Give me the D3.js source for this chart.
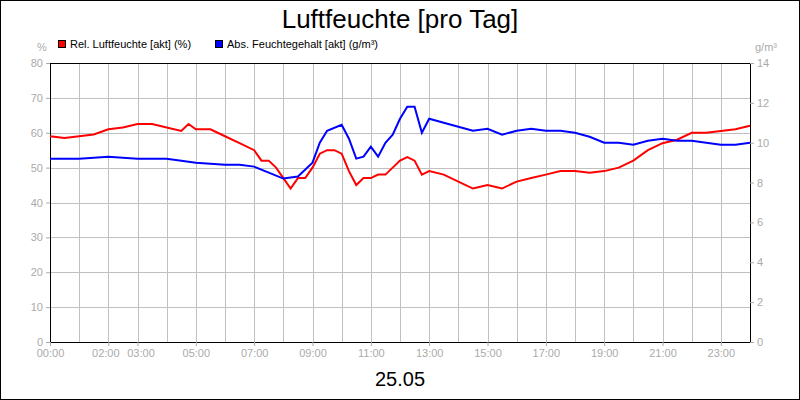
<!DOCTYPE html>
<html><head><meta charset="utf-8">
<script src="https://cdn.jsdelivr.net/npm/d3@7"></script>
<style>body{margin:0}svg{font-family:"Liberation Sans",Arial,sans-serif}</style>
</head><body><div id="chart"></div>
<script>
const width = 800, height = 400
const margin = { top: 63, right: 50, bottom: 58, left: 50 }

// hours of day
const relTimes = [0,0.5,1,1.5,2,2.5,3,3.5,4,4.5,4.75,5,5.5,6,6.5,7,7.25,7.5,7.75,8,8.25,8.5,8.75,9,9.25,9.5,9.75,10,10.25,10.5,10.75,11,11.25,11.5,11.75,12,12.25,12.5,12.75,13,13.5,14,14.5,15,15.5,16,16.5,17,17.5,18,18.5,19,19.5,20,20.5,21,21.5,22,22.5,23,23.5,24]
const relValues = [59,58.5,59,59.5,61,61.5,62.5,62.5,61.5,60.5,62.5,61,61,59,57,55,52,52,50,47,44,47,47,50,54,55,55,54,49,45,47,47,48,48,50,52,53,52,48,49,48,46,44,45,44,46,47,48,49,49,48.5,49,50,52,55,57,58,60,60,60.5,61,62]
const absTimes = [0,1,2,3,4,4.5,5,6,6.5,7,7.5,8,8.5,9,9.25,9.5,10,10.25,10.5,10.75,11,11.25,11.5,11.75,12,12.25,12.5,12.75,13,13.5,14,14.5,15,15.5,16,16.5,17,17.5,18,18.5,19,19.5,20,20.5,21,21.5,22,22.5,23,23.5,24]
const absValues = [9.2,9.2,9.3,9.2,9.2,9.1,9.0,8.9,8.9,8.8,8.5,8.2,8.3,9.0,10.0,10.6,10.9,10.2,9.2,9.3,9.8,9.3,10.0,10.4,11.2,11.8,11.8,10.5,11.2,11.0,10.8,10.6,10.7,10.4,10.6,10.7,10.6,10.6,10.5,10.3,10.0,10.0,9.9,10.1,10.2,10.1,10.1,10.0,9.9,9.9,10.0]
const xTickLabels = ["00:00","02:00","03:00","05:00","07:00","09:00","11:00","13:00","15:00","17:00","19:00","21:00","23:00"]
const xTickHours = [0,2,3,5,7,9,11,13,15,17,19,21,23]

const svg = d3.select("#chart").append("svg").attr("width", width).attr("height", height)
svg.append("rect").attr("x", 0.5).attr("y", 0.5).attr("width", width - 1).attr("height", height - 1)
    .attr("fill", "white").attr("stroke", "black")

const x = d3.scaleLinear([0, 24], [margin.left, width - margin.right])
const yL = d3.scaleLinear([0, 80], [height - margin.bottom, margin.top])
const yR = d3.scaleLinear([0, 14], [height - margin.bottom, margin.top])

// grid
svg.append("g").attr("stroke", "#c0c0c0")
    .call(g => g.selectAll("line.v").data(d3.range(1, 24)).join("line")
        .attr("x1", d => Math.round(x(d)) + 0.5).attr("x2", d => Math.round(x(d)) + 0.5)
        .attr("y1", margin.top).attr("y2", height - margin.bottom))
    .call(g => g.selectAll("line.h").data(d3.range(10, 80, 10)).join("line")
        .attr("y1", d => Math.round(yL(d)) + 0.5).attr("y2", d => Math.round(yL(d)) + 0.5)
        .attr("x1", margin.left).attr("x2", width - margin.right))

svg.append("rect").attr("x", margin.left + 0.5).attr("y", margin.top + 0.5)
    .attr("width", width - margin.left - margin.right).attr("height", height - margin.top - margin.bottom)
    .attr("fill", "none").attr("stroke", "black")

const grey = "#aaa"
const styleAxis = g => {
    g.select(".domain").remove()
    g.selectAll("line").attr("stroke", grey)
    g.selectAll("text").attr("fill", grey).style("font-size", "11px")
}
svg.append("g").attr("transform", `translate(${margin.left},0)`)
    .call(d3.axisLeft(yL).tickValues(d3.range(0, 81, 10)).tickSize(4)).call(styleAxis)
svg.append("g").attr("transform", `translate(${width - margin.right},0)`)
    .call(d3.axisRight(yR).tickValues(d3.range(0, 15, 2)).tickSize(4)).call(styleAxis)
svg.append("g").attr("transform", `translate(0,${height - margin.bottom})`)
    .call(d3.axisBottom(x).tickValues(xTickHours).tickFormat((d, i) => xTickLabels[i]).tickSize(4))
    .call(styleAxis)
    .call(g => g.selectAll("text").attr("dx", (d, i) => d == 2 ? "-3" : d == 3 ? "3" : 0))

svg.append("text").attr("x", 42).attr("y", 51).attr("text-anchor", "middle").attr("fill", grey).style("font-size", "11px").text("%")
svg.append("text").attr("x", 766).attr("y", 51).attr("text-anchor", "middle").attr("fill", grey).style("font-size", "11px").text("g/m³")

const line = (xs, ys, yS) => d3.line().x((d, i) => x(xs[i])).y(d => yS(d))(ys)
svg.append("path").attr("d", line(relTimes, relValues, yL)).attr("fill", "none").attr("stroke", "#f00").attr("stroke-width", 2)
svg.append("path").attr("d", line(absTimes, absValues, yR)).attr("fill", "none").attr("stroke", "#00f").attr("stroke-width", 2)

svg.append("text").attr("x", 400).attr("y", 28).attr("text-anchor", "middle").style("font-size", "26px").text("Luftfeuchte [pro Tag]")
svg.append("text").attr("x", 400).attr("y", 386).attr("text-anchor", "middle").style("font-size", "20px").text("25.05")

const legend = [["Rel. Luftfeuchte [akt] (%)", "#f00", 58], ["Abs. Feuchtegehalt [akt] (g/m³)", "#00f", 215]]
legend.forEach(([t, c, lx]) => {
    svg.append("rect").attr("x", lx + 0.5).attr("y", 40.5).attr("width", 7).attr("height", 7).attr("fill", c).attr("stroke", "black")
    svg.append("text").attr("x", lx + 12).attr("y", 48).style("font-size", "11px").text(t)
})
</script></body></html>
